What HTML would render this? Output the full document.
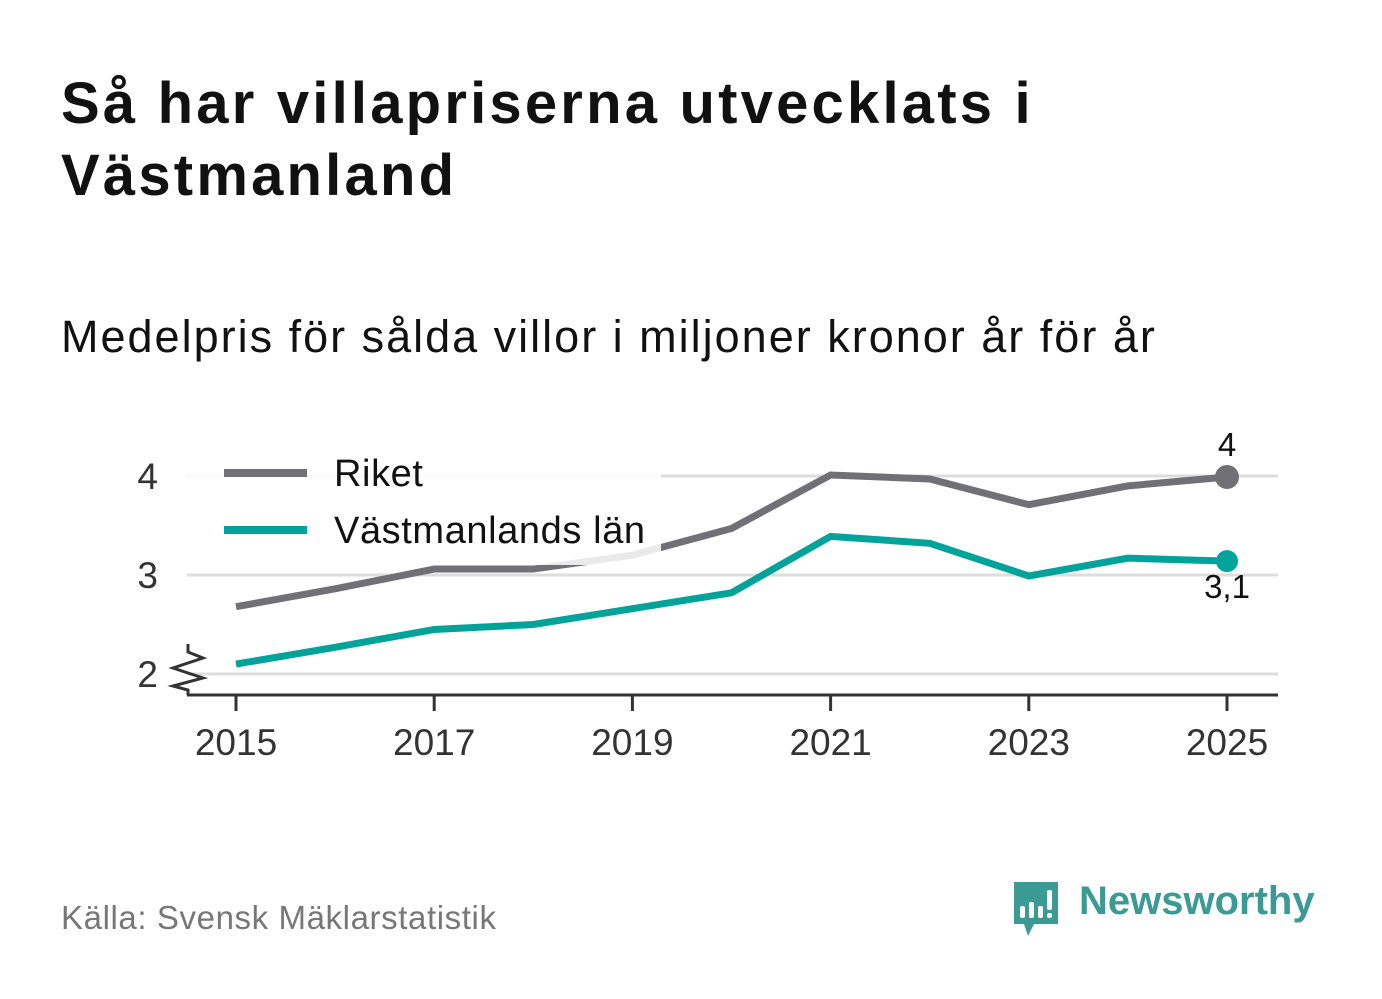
<!DOCTYPE html>
<html><head><meta charset="utf-8"><style>
body{margin:0;width:1382px;height:999px;background:#fff;font-family:"Liberation Sans",sans-serif;overflow:hidden;position:relative}
.t{position:absolute;left:61px;top:68px;font-size:58px;letter-spacing:3.2px;font-weight:bold;line-height:72px;color:#111;margin:0}
.s{position:absolute;left:61px;top:311px;font-size:45px;letter-spacing:2px;color:#111}
.src{position:absolute;left:61px;top:899px;font-size:33px;letter-spacing:0.6px;color:#777}
.logo{position:absolute;left:1079px;top:879px;font-size:40px;font-weight:bold;color:#3c9a94}
</style></head><body>
<h1 class="t">Så har villapriserna utvecklats i<br>Västmanland</h1>
<div class="s">Medelpris för sålda villor i miljoner kronor år för år</div>
<div class="src">Källa: Svensk Mäklarstatistik</div>
<svg style="position:absolute;left:1010px;top:880px" width="52" height="60">
<path d="M4 2h44v42H24l-6 12-4-12H4z" fill="#3c9a94"/>
<rect x="10" y="26" width="5" height="12" rx="2" fill="#fff"/><rect x="19" y="22" width="5" height="16" rx="2" fill="#fff"/><rect x="28" y="26" width="5" height="12" rx="2" fill="#fff"/><rect x="37" y="10" width="5" height="20" rx="2" fill="#fff"/><rect x="37" y="33" width="5" height="5" rx="2" fill="#fff"/>
</svg>
<div class="logo">Newsworthy</div>
<svg id="chart" style="position:absolute;left:0;top:0" width="1382" height="999"></svg>
<script>
const years=[2015,2016,2017,2018,2019,2020,2021,2022,2023,2024,2025];
const riket=[2.68,2.86,3.06,3.06,3.2,3.47,4.01,3.97,3.71,3.9,3.99];
const vastmanland=[2.1,2.27,2.45,2.5,2.66,2.82,3.39,3.32,2.99,3.17,3.14];
const yTicks=[2,3,4];
const xTicks=[2015,2017,2019,2021,2023,2025];
const lastLabels=["4","3,1"];
const NS="http://www.w3.org/2000/svg";
const svg=document.getElementById('chart');
const x=v=>236+(v-2015)*99.1;
const y=v=>674-(v-2)*99;
function mk(t,a,p){const e=document.createElementNS(NS,t);for(const k in a)e.setAttribute(k,a[k]);(p||svg).appendChild(e);return e;}
yTicks.forEach(v=>{
 const g=mk('line',{x1:187,x2:1278,y1:y(v),y2:y(v),stroke:'#ddd','stroke-width':3});
 
 
 const t=mk('text',{x:158,y:y(v)+13,'text-anchor':'end','font-size':37,fill:'#333','font-family':'Liberation Sans'});
 t.textContent=v;
 
 
});
const ax=mk('line',{x1:187,x2:1278,y1:695,y2:695,stroke:'#333','stroke-width':3});


const br=mk('polyline',{points:'188,644 188,652 203,658 173,668 203,678 173,686 188,690 188,695',fill:'none',stroke:'#333','stroke-width':3});


xTicks.forEach(v=>{
 const l=mk('line',{x1:x(v),x2:x(v),y1:695,y2:711,stroke:'#333','stroke-width':3});
 
 
 const t=mk('text',{x:x(v),y:755,'text-anchor':'middle','font-size':37,fill:'#333','font-family':'Liberation Sans'});
 t.textContent=v;
 
 
});
function series(vals,color,name){
 const p=mk('polyline',{points:vals.map((v,i)=>x(years[i])+','+y(v)).join(' '),fill:'none',stroke:color,'stroke-width':7});
 
 
}
series(riket,'#717077','riket');
series(vastmanland,'#00a39a','vastmanland');
const lg=mk('rect',{x:187,y:445,width:474,height:120,fill:'#fff','fill-opacity':0.85});


[['Riket','#717077',473],['Västmanlands län','#00a39a',530]].forEach(([n,c,yy])=>{
 const l=mk('line',{x1:224,x2:307,y1:yy,y2:yy,stroke:c,'stroke-width':8});
 
 
 const t=mk('text',{x:334,y:yy+13,'font-size':38,'letter-spacing':0.6,fill:'#111','font-family':'Liberation Sans'});
 t.textContent=n;
 
 
});
const last=years.length-1;
const d1=mk('circle',{cx:x(years[last]),cy:y(riket[last]),r:12,fill:'#717077'});


const d2=mk('circle',{cx:x(years[last]),cy:y(vastmanland[last]),r:11,fill:'#00a39a'});


const l1=mk('text',{x:x(years[last]),y:y(riket[last])-21,'text-anchor':'middle','font-size':33,fill:'#111','font-family':'Liberation Sans'});
l1.textContent=lastLabels[0];


const l2=mk('text',{x:x(years[last]),y:y(vastmanland[last])+37,'text-anchor':'middle','font-size':33,fill:'#111','font-family':'Liberation Sans'});
l2.textContent=lastLabels[1];


</script>
</body></html>
